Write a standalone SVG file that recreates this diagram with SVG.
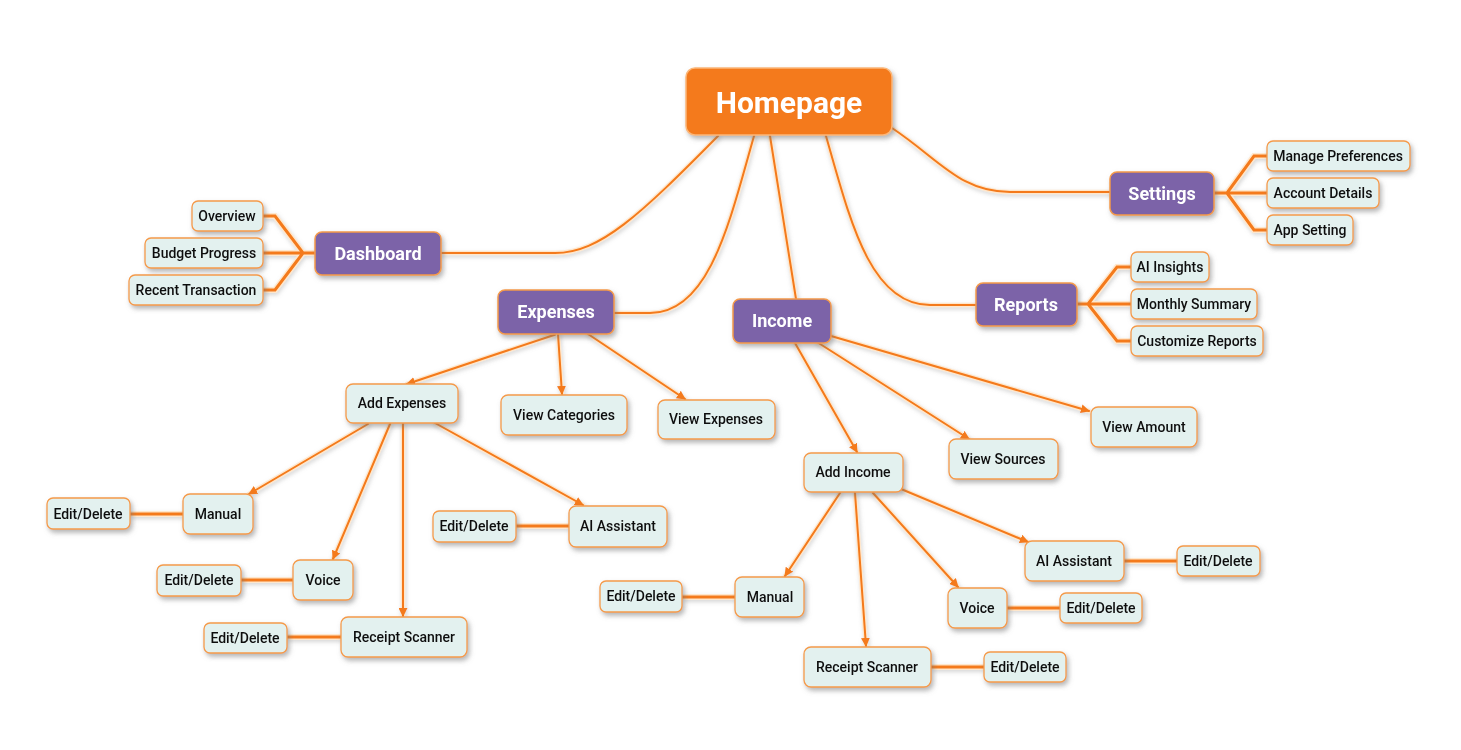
<svg xmlns="http://www.w3.org/2000/svg" width="1461" height="750" viewBox="0 0 1461 750">
<defs>
<filter id="sh" x="-20%" y="-30%" width="140%" height="160%">
<feDropShadow dx="2" dy="3" stdDeviation="2.5" flood-color="#777" flood-opacity="0.55"/>
</filter>
<filter id="lsh" x="-10%" y="-10%" width="120%" height="120%">
<feDropShadow dx="1" dy="2" stdDeviation="2" flood-color="#888" flood-opacity="0.35"/>
</filter>
<marker id="ah" viewBox="0 0 10 10" refX="9" refY="5" markerWidth="9" markerHeight="9" markerUnits="userSpaceOnUse" orient="auto">
<path d="M0,0 L10,5 L0,10 z" fill="#f47a1a"/>
</marker>
</defs>
<style>
.under{fill:none;stroke:#ffe7cc;stroke-width:4.5;stroke-linecap:round}
.over{fill:none;stroke:#f47a1a;stroke-width:2;stroke-linecap:round}
.thu{fill:none;stroke:#ffe7cc;stroke-width:6}
.tho{fill:none;stroke:#f47a1a;stroke-width:3}
.home rect{fill:#f47a1a;stroke:#fbb77a;stroke-width:1.5}
.home text{fill:#fff;font:700 30px Roboto,"Liberation Sans",sans-serif;text-anchor:middle}
.main rect{fill:#7b63a8;stroke:#f59a4a;stroke-width:1.5}
.main text{fill:#fff;font:700 18px Roboto,"Liberation Sans",sans-serif;text-anchor:middle}
.leaf rect{fill:#e3f1ef;stroke:#f59a4a;stroke-width:1.3}
.leaf text{fill:#111;font:500 14px Roboto,"Liberation Sans",sans-serif;text-anchor:middle}
.node{filter:url(#sh)}
</style>
<rect width="1461" height="750" fill="#fff"/>

<g id="connectors" filter="url(#lsh)">
<!-- Homepage to main nodes -->
<path class="under" d="M718,136 C640,215 600,253 555,253 L441,253"/>
<path class="over" d="M718,136 C640,215 600,253 555,253 L441,253"/>
<path class="under" d="M754,136 C730,220 710,313 650,313 L614,313"/>
<path class="over" d="M754,136 C730,220 710,313 650,313 L614,313"/>
<path class="under" d="M770,136 L796,299"/>
<path class="over" d="M770,136 L796,299"/>
<path class="under" d="M826,136 C850,220 870,305 930,305 L976,305"/>
<path class="over" d="M826,136 C850,220 870,305 930,305 L976,305"/>
<path class="under" d="M892,128 C940,160 960,192 1010,192 L1110,192"/>
<path class="over" d="M892,128 C940,160 960,192 1010,192 L1110,192"/>

<!-- Dashboard children -->
<path class="thu" d="M263,216 L275,216 L303,253 L315,253 M263,253 L303,253 M263,290 L275,290 L303,253"/>
<path class="tho" d="M263,216 L275,216 L303,253 L315,253 M263,253 L303,253 M263,290 L275,290 L303,253"/>

<!-- Settings children -->
<path class="thu" d="M1214,193 L1227,193 L1254,156 L1267,156 M1227,193 L1267,193 M1227,193 L1254,230 L1267,230"/>
<path class="tho" d="M1214,193 L1227,193 L1254,156 L1267,156 M1227,193 L1267,193 M1227,193 L1254,230 L1267,230"/>

<!-- Reports children -->
<path class="thu" d="M1077,304 L1088,304 L1117,267 L1131,267 M1088,304 L1131,304 M1088,304 L1117,341 L1131,341"/>
<path class="tho" d="M1077,304 L1088,304 L1117,267 L1131,267 M1088,304 L1131,304 M1088,304 L1117,341 L1131,341"/>

<!-- Expenses arrows -->
<path class="under" d="M557,334 L407,384"/>
<path class="over" d="M557,334 L407,384" marker-end="url(#ah)"/>
<path class="under" d="M558,334 L562,394"/>
<path class="over" d="M558,334 L562,394" marker-end="url(#ah)"/>
<path class="under" d="M588,334 L685,399"/>
<path class="over" d="M588,334 L685,399" marker-end="url(#ah)"/>

<!-- Add Expenses arrows -->
<path class="under" d="M368,424 L249,494"/>
<path class="over" d="M368,424 L249,494" marker-end="url(#ah)"/>
<path class="under" d="M390,424 L333,559"/>
<path class="over" d="M390,424 L333,559" marker-end="url(#ah)"/>
<path class="under" d="M403,424 L403,616"/>
<path class="over" d="M403,424 L403,616" marker-end="url(#ah)"/>
<path class="under" d="M435,423 L583,505"/>
<path class="over" d="M435,423 L583,505" marker-end="url(#ah)"/>

<!-- Expense Edit/Delete links -->
<path class="thu" d="M130,514 L183,514 M241,580 L293,580 M287,637 L341,637 M516,526 L569,526"/>
<path class="tho" d="M130,514 L183,514 M241,580 L293,580 M287,637 L341,637 M516,526 L569,526"/>

<!-- Income arrows -->
<path class="under" d="M795,343 L857,452"/>
<path class="over" d="M795,343 L857,452" marker-end="url(#ah)"/>
<path class="under" d="M817,342 L969,439"/>
<path class="over" d="M817,342 L969,439" marker-end="url(#ah)"/>
<path class="under" d="M831,336 L1089,411"/>
<path class="over" d="M831,336 L1089,411" marker-end="url(#ah)"/>

<!-- Add Income arrows -->
<path class="under" d="M840,493 L785,576"/>
<path class="over" d="M840,493 L785,576" marker-end="url(#ah)"/>
<path class="under" d="M855,493 L866,646"/>
<path class="over" d="M855,493 L866,646" marker-end="url(#ah)"/>
<path class="under" d="M873,493 L958,587"/>
<path class="over" d="M873,493 L958,587" marker-end="url(#ah)"/>
<path class="under" d="M901,489 L1028,542"/>
<path class="over" d="M901,489 L1028,542" marker-end="url(#ah)"/>

<!-- Income Edit/Delete links -->
<path class="thu" d="M682,597 L735,597 M931,667 L984,667 M1007,608 L1060,608 M1124,561 L1177,561"/>
<path class="tho" d="M682,597 L735,597 M931,667 L984,667 M1007,608 L1060,608 M1124,561 L1177,561"/>
</g>

<g id="homepage" class="node home"><rect x="686" y="68" width="206" height="67" rx="9"/><text x="789" y="113">Homepage</text></g>

<g id="dashboard" class="node main"><rect x="315" y="232" width="126" height="43" rx="7"/><text x="378" y="260">Dashboard</text></g>
<g id="settings" class="node main"><rect x="1110" y="172" width="104" height="43" rx="7"/><text x="1162" y="200">Settings</text></g>
<g id="reports" class="node main"><rect x="976" y="283" width="101" height="43" rx="7"/><text x="1026" y="311">Reports</text></g>
<g id="expenses" class="node main"><rect x="498" y="290" width="116" height="44" rx="7"/><text x="556" y="318">Expenses</text></g>
<g id="income" class="node main"><rect x="733" y="299" width="98" height="44" rx="7"/><text x="782" y="327">Income</text></g>

<g id="overview" class="node leaf"><rect x="192" y="201" width="71" height="30" rx="6"/><text x="227" y="221">Overview</text></g>
<g id="budget-progress" class="node leaf"><rect x="145" y="238" width="118" height="30" rx="6"/><text x="204" y="258">Budget Progress</text></g>
<g id="recent-transaction" class="node leaf"><rect x="129" y="275" width="134" height="30" rx="6"/><text x="196" y="295">Recent Transaction</text></g>

<g id="manage-preferences" class="node leaf"><rect x="1267" y="141" width="143" height="30" rx="6"/><text x="1338" y="161">Manage Preferences</text></g>
<g id="account-details" class="node leaf"><rect x="1267" y="178" width="112" height="30" rx="6"/><text x="1323" y="198">Account Details</text></g>
<g id="app-setting" class="node leaf"><rect x="1267" y="215" width="86" height="30" rx="6"/><text x="1310" y="235">App Setting</text></g>

<g id="ai-insights" class="node leaf"><rect x="1131" y="252" width="78" height="30" rx="6"/><text x="1170" y="272">AI Insights</text></g>
<g id="monthly-summary" class="node leaf"><rect x="1131" y="289" width="126" height="30" rx="6"/><text x="1194" y="309">Monthly Summary</text></g>
<g id="customize-reports" class="node leaf"><rect x="1131" y="326" width="132" height="30" rx="6"/><text x="1197" y="346">Customize Reports</text></g>

<g id="add-expenses" class="node leaf"><rect x="346" y="384" width="112" height="39" rx="7"/><text x="402" y="408">Add Expenses</text></g>
<g id="view-categories" class="node leaf"><rect x="501" y="395" width="126" height="40" rx="7"/><text x="564" y="420">View Categories</text></g>
<g id="view-expenses" class="node leaf"><rect x="658" y="400" width="117" height="39" rx="7"/><text x="716" y="424">View Expenses</text></g>

<g id="exp-manual" class="node leaf"><rect x="183" y="494" width="70" height="40" rx="7"/><text x="218" y="519">Manual</text></g>
<g id="exp-manual-edit" class="node leaf"><rect x="47" y="498" width="83" height="31" rx="6"/><text x="88" y="519">Edit/Delete</text></g>
<g id="exp-voice" class="node leaf"><rect x="293" y="560" width="60" height="40" rx="7"/><text x="323" y="585">Voice</text></g>
<g id="exp-voice-edit" class="node leaf"><rect x="157" y="565" width="84" height="31" rx="6"/><text x="199" y="585">Edit/Delete</text></g>
<g id="exp-receipt" class="node leaf"><rect x="341" y="617" width="126" height="40" rx="7"/><text x="404" y="642">Receipt Scanner</text></g>
<g id="exp-receipt-edit" class="node leaf"><rect x="204" y="623" width="83" height="30" rx="6"/><text x="245" y="643">Edit/Delete</text></g>
<g id="exp-ai" class="node leaf"><rect x="569" y="506" width="98" height="41" rx="7"/><text x="618" y="531">AI Assistant</text></g>
<g id="exp-ai-edit" class="node leaf"><rect x="433" y="511" width="83" height="31" rx="6"/><text x="474" y="531">Edit/Delete</text></g>

<g id="add-income" class="node leaf"><rect x="804" y="453" width="99" height="39" rx="7"/><text x="853" y="477">Add Income</text></g>
<g id="view-sources" class="node leaf"><rect x="949" y="439" width="109" height="40" rx="7"/><text x="1003" y="464">View Sources</text></g>
<g id="view-amount" class="node leaf"><rect x="1091" y="407" width="106" height="40" rx="7"/><text x="1144" y="432">View Amount</text></g>

<g id="inc-manual" class="node leaf"><rect x="735" y="577" width="69" height="40" rx="7"/><text x="770" y="602">Manual</text></g>
<g id="inc-manual-edit" class="node leaf"><rect x="600" y="581" width="82" height="31" rx="6"/><text x="641" y="601">Edit/Delete</text></g>
<g id="inc-receipt" class="node leaf"><rect x="804" y="647" width="127" height="40" rx="7"/><text x="867" y="672">Receipt Scanner</text></g>
<g id="inc-receipt-edit" class="node leaf"><rect x="984" y="652" width="82" height="30" rx="6"/><text x="1025" y="672">Edit/Delete</text></g>
<g id="inc-voice" class="node leaf"><rect x="948" y="588" width="59" height="40" rx="7"/><text x="977" y="613">Voice</text></g>
<g id="inc-voice-edit" class="node leaf"><rect x="1060" y="593" width="82" height="30" rx="6"/><text x="1101" y="613">Edit/Delete</text></g>
<g id="inc-ai" class="node leaf"><rect x="1025" y="541" width="99" height="40" rx="7"/><text x="1074" y="566">AI Assistant</text></g>
<g id="inc-ai-edit" class="node leaf"><rect x="1177" y="546" width="83" height="30" rx="6"/><text x="1218" y="566">Edit/Delete</text></g>
</svg>
